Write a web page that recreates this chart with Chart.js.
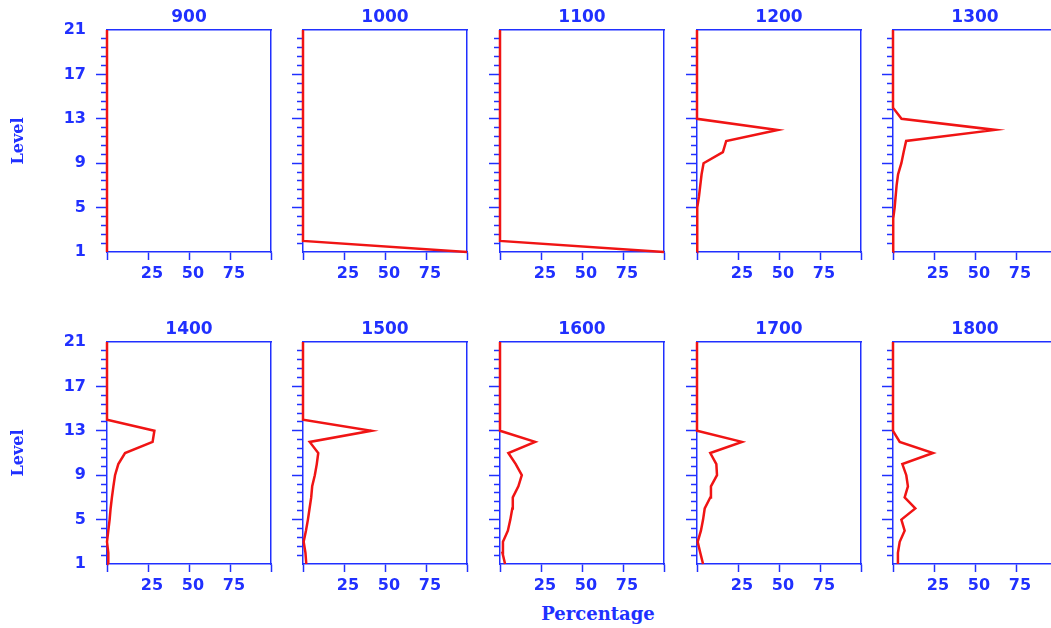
<!doctype html>
<html lang="en">
  <head>
    <meta charset="UTF-8" />
    <title>Level x Percentage</title>
    <script src="https://cdn.jsdelivr.net/npm/chart.js"></script>
    <style>
      body {
        margin: 0;
        width: 1051px;
        height: 628px;
        overflow: hidden;
        background: #ffffff;
        position: relative;
      }
      .painel {
        position: absolute;
      }
      #xTitulo {
        position: absolute;
        left: 498px;
        width: 200px;
        top: 603px;
        line-height: 22px;
        text-align: center;
        font-family: "DejaVu Serif";
        font-weight: bold;
        font-size: 18px;
        color: #2030ff;
      }
    </style>
  </head>
  <body>
    <div id="xTitulo">Percentage</div>

    <script>
      // dados (nivel 1 ate 21)
      const levels = [1, 2, 3, 4, 5, 6, 7, 8, 9, 10, 11, 12, 13, 14, 15, 16, 17, 18, 19, 20, 21];
      const panelTitles = ["900", "1000", "1100", "1200", "1300", "1400", "1500", "1600", "1700", "1800"];

      const pct900 = [0, 0, 0, 0, 0, 0, 0, 0, 0, 0, 0, 0, 0, 0, 0, 0, 0, 0, 0, 0, 0];
      const pct1000 = [100, 0, 0, 0, 0, 0, 0, 0, 0, 0, 0, 0, 0, 0, 0, 0, 0, 0, 0, 0, 0];
      const pct1100 = [100, 0, 0, 0, 0, 0, 0, 0, 0, 0, 0, 0, 0, 0, 0, 0, 0, 0, 0, 0, 0];
      const pct1200 = [0, 0, 0, 0, 0.6, 1.2, 2.0, 2.8, 4.0, 15.8, 17.8, 49.2, 0, 0, 0, 0, 0, 0, 0, 0, 0];
      const pct1300 = [0, 0, 0, 0.4, 1.0, 1.6, 2.2, 3.1, 5.1, 6.5, 8.0, 62.3, 5.2, 0, 0, 0, 0, 0, 0, 0, 0];
      const pct1400 = [1.0, 0.8, 0, 0.8, 1.6, 2.2, 3.0, 3.9, 4.9, 6.9, 11.0, 27.8, 28.9, 0, 0, 0, 0, 0, 0, 0, 0];
      const pct1500 = [2.0, 1.5, 0.4, 1.8, 3.0, 4.0, 5.0, 5.6, 7.2, 8.4, 9.3, 4.1, 41.7, 0, 0, 0, 0, 0, 0, 0, 0];
      const pct1600 = [3.1, 1.5, 1.8, 4.8, 6.3, 7.5, 7.8, 11.2, 13.3, 9.6, 5.1, 21.4, 0, 0, 0, 0, 0, 0, 0, 0, 0];
      const pct1700 = [3.7, 2.0, 0.4, 2.4, 3.7, 4.7, 8.1, 8.5, 12.2, 11.8, 8.1, 27.4, 0, 0, 0, 0, 0, 0, 0, 0, 0];
      const pct1800 = [3.0, 3.0, 4.1, 7.1, 5.1, 13.6, 7.1, 9.1, 8.1, 5.7, 24.4, 4.1, 0, 0, 0, 0, 0, 0, 0, 0, 0];

      const panelValues = [pct900, pct1000, pct1100, pct1200, pct1300, pct1400, pct1500, pct1600, pct1700, pct1800];

      const xTickValues = [0, 25, 50, 75, 100];
      const xTickLabels = ["", "25", "50", "75", ""];
      const yTickValues = [1, 5, 9, 13, 17, 21];
      const yTickLabels = ["1", "5", "9", "13", "17", "21"];
      const yMinorTicks = [1.8, 2.6, 3.4, 4.2, 5.8, 6.6, 7.4, 8.2, 9.8, 10.6, 11.4, 12.2,
                           13.8, 14.6, 15.4, 16.2, 17.8, 18.6, 19.4, 20.2];

      const AZUL = "#2030ff";
      const VERMELHO = "#f01414";

      // posicao dos paineis na pagina
      const plotLeft = [107, 303, 500, 697, 893];
      const plotTop = [30, 342];
      const plotW = 164;

      function criarPainel(i) {
        const col = i % 5;
        const row = Math.floor(i / 5);
        const yW = col === 0 ? 107 : 20;

        const canvas = document.createElement("canvas");
        canvas.className = "painel";
        canvas.width = yW + plotW + 10;
        canvas.height = 300;
        canvas.style.left = plotLeft[col] - yW + "px";
        canvas.style.top = plotTop[row] - 30 + "px";
        document.body.appendChild(canvas);

        const valores = panelValues[i];
        const pontos = levels.map((lv, k) => ({ x: valores[k], y: lv }));

        new Chart(canvas, {
          type: "line",
          data: {
            datasets: [
              {
                data: pontos,
                borderColor: VERMELHO,
                borderWidth: 2.5,
                pointRadius: 0,
                tension: 0,
                fill: false,
                clip: false,
                xAxisID: "x",
                yAxisID: "y",
              },
            ],
          },
          options: {
            responsive: false,
            animation: false,
            layout: { padding: { left: 0, top: 0, right: 10, bottom: 0 } },
            plugins: {
              legend: { display: false },
              tooltip: { enabled: false },
              title: {
                display: true,
                fullSize: false, // centrado so sobre a area do grafico
                text: panelTitles[i],
                color: AZUL,
                font: { family: "DejaVu Sans", size: 17, weight: "bold" },
                padding: { top: 7, bottom: 2.6 },
              },
            },
            scales: {
              x: {
                type: "linear",
                position: "bottom",
                min: 0,
                max: 100,
                afterBuildTicks: (s) => {
                  s.ticks = xTickValues.map((v) => ({ value: v }));
                },
                afterFit: (s) => {
                  s.height = 48;
                },
                ticks: {
                  autoSkip: false,
                  maxRotation: 0,
                  padding: 4,
                  labelOffset: 4,
                  color: AZUL,
                  font: { family: "DejaVu Sans", size: 16, weight: "bold" },
                  callback: (v, idx) => xTickLabels[idx],
                },
                grid: {
                  drawOnChartArea: false,
                  tickLength: 8,
                  tickWidth: 1.5,
                  tickColor: AZUL,
                },
                border: { color: AZUL, width: 1.5 },
              },
              xTop: {
                type: "linear",
                position: "top",
                ticks: { display: false },
                grid: { display: false },
                border: { color: AZUL, width: 1.5 },
                afterFit: (s) => {
                  s.height = 0;
                },
              },
              y: {
                type: "linear",
                position: "left",
                weight: 1,
                min: 1,
                max: 21,
                afterBuildTicks: (s) => {
                  s.ticks = yTickValues.map((v) => ({ value: v }));
                },
                afterFit: (s) => {
                  s.width = yW;
                },
                ticks: {
                  display: col === 0,
                  autoSkip: false,
                  padding: 10,
                  color: AZUL,
                  font: { family: "DejaVu Sans", size: 16, weight: "bold" },
                  callback: (v, idx) => yTickLabels[idx],
                },
                grid: {
                  drawOnChartArea: false,
                  tickLength: 11,
                  tickWidth: 1.5,
                  tickColor: (ctx) =>
                    ctx.tick && (ctx.tick.value === 1 || ctx.tick.value === 21)
                      ? "rgba(0,0,0,0)"
                      : AZUL,
                },
                border: { color: AZUL, width: 1.5 },
                title: {
                  display: col === 0,
                  text: "Level",
                  color: AZUL,
                  font: { family: "DejaVu Serif", size: 16, weight: "bold" },
                  padding: { top: 9, bottom: 0 },
                },
              },
              yMinor: {
                type: "linear",
                position: "left",
                weight: 0,
                min: 1,
                max: 21,
                afterBuildTicks: (s) => {
                  s.ticks = yMinorTicks.map((v) => ({ value: v }));
                },
                afterFit: (s) => {
                  s.width = 0;
                },
                ticks: { display: false, autoSkip: false },
                grid: {
                  drawOnChartArea: false,
                  tickLength: 6,
                  tickWidth: 1.5,
                  tickColor: AZUL,
                },
                border: { display: false },
              },
              yRight: {
                type: "linear",
                position: "right",
                ticks: { display: false },
                grid: { display: false },
                border: { color: AZUL, width: 1.5 },
                afterFit: (s) => {
                  s.width = 0;
                },
              },
            },
          },
        });
      }

      for (let i = 0; i < panelTitles.length; i++) {
        criarPainel(i);
      }
    </script>
  </body>
</html>
